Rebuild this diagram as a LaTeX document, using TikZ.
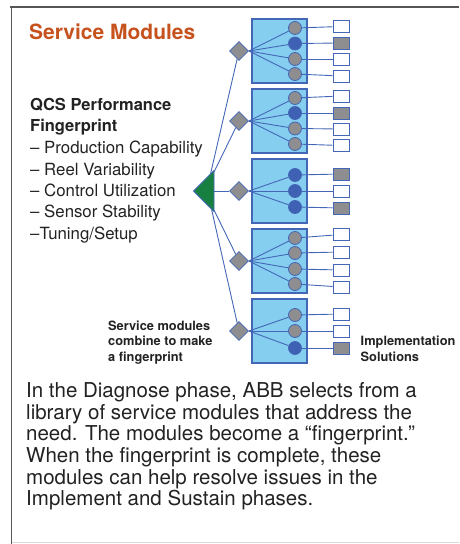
\documentclass[tikz,border=0pt]{standalone}
\usepackage{fontspec}
\setmainfont{TeX Gyre Heros}
\usetikzlibrary{shapes.geometric}
\definecolor{lineblue}{HTML}{4367B6}
\definecolor{modfill}{HTML}{86CEF0}
\definecolor{dotgray}{HTML}{8E8E91}
\definecolor{dotblue}{HTML}{3E61B3}
\definecolor{titleorange}{HTML}{C6521E}
\definecolor{trigreen}{HTML}{178040}
\definecolor{txt}{HTML}{222222}
\definecolor{frame}{HTML}{555555}
\pgfdeclarelayer{back}
\pgfdeclarelayer{mid}
\pgfsetlayers{back,mid,main}
\tikzset{
  module/.style={draw=lineblue, fill=modfill, line width=1.3pt, minimum width=55pt, minimum height=64pt, inner sep=0pt},
  dot/.style={circle, draw=lineblue, line width=0.8pt, fill=dotgray, minimum size=13pt, inner sep=0pt},
  bdot/.style={dot, fill=dotblue},
  sol/.style={draw=lineblue, line width=1pt, fill=white, minimum width=16pt, minimum height=12pt, inner sep=0pt},
  gsol/.style={sol, fill=dotgray},
  hub/.style={diamond, draw=lineblue, line width=0.8pt, fill=dotgray, minimum size=19pt, inner sep=0pt},
  conn/.style={draw=lineblue, line width=0.9pt},
  lbl/.style={anchor=base west, inner sep=0pt, text=txt},
}
\begin{document}
\begin{tikzpicture}[x=1pt,y=-1pt]
\useasboundingbox (0,0) rectangle (459,544);
% frame
\draw[frame, line width=2pt] (10,7) -- (459,7);
\draw[frame, line width=1.4pt] (11.5,6) -- (11.5,544);
\draw[black!15, line width=1pt] (11.5,542.5) -- (459,542.5);

% titles
\node[lbl, text=titleorange, font=\fontsize{21}{24}\bfseries] (title) at (29,39) {Service Modules};
\node[lbl, font=\fontsize{16.5}{20}\bfseries] (q1) at (30,110.7) {QCS Performance};
\node[lbl, font=\fontsize{16.5}{20}\bfseries] (q2) at (30,131.7) {Fingerprint};
\node[lbl, font=\fontsize{16.8}{20}\selectfont] (l1) at (30,153.3) {– Production Capability};
\node[lbl, font=\fontsize{16.8}{20}\selectfont] (l2) at (30,175) {– Reel Variability};
\node[lbl, font=\fontsize{16.8}{20}\selectfont] (l3) at (30,196.3) {– Control Utilization};
\node[lbl, font=\fontsize{16.8}{20}\selectfont] (l4) at (30,217.6) {– Sensor Stability};
\node[lbl, font=\fontsize{16.8}{20}\selectfont] (l5) at (30,239) {–Tuning/Setup};

\node[lbl, font=\fontsize{12.8}{15}\bfseries] (s1) at (108,330) {Service modules};
\node[lbl, font=\fontsize{12.8}{15}\bfseries] (s2) at (108,345.7) {combine to make};
\node[lbl, font=\fontsize{12.8}{15}\bfseries] (s3) at (108,361.5) {a fingerprint};
\node[lbl, font=\fontsize{12.8}{15}\bfseries] (i1) at (360.5,345.7) {Implementation};
\node[lbl, font=\fontsize{12.8}{15}\bfseries] (i2) at (360.5,361.5) {Solutions};

\node[lbl, font=\fontsize{20.5}{22}\selectfont] (p1) at (26,397.3) {In the Diagnose phase, ABB selects from a};
\node[lbl, font=\fontsize{20.5}{22}\selectfont] (p2) at (26,419) {library of service modules that address the};
\node[lbl, font=\fontsize{20.5}{22}\selectfont] (p3) at (26,440.7) {need. The modules become a “fingerprint.”};
\node[lbl, font=\fontsize{20.5}{22}\selectfont] (p4) at (26,462.3) {When the fingerprint is complete, these};
\node[lbl, font=\fontsize{20.5}{22}\selectfont] (p5) at (26,484) {modules can help resolve issues in the};
\node[lbl, font=\fontsize{20.5}{22}\selectfont] (p6) at (26,505.7) {Implement and Sustain phases.};

% modules
\begin{pgfonlayer}{back}
\foreach \k/\y in {1/51, 2/121, 3/191, 4/261, 5/331}
  \node[module] (m\k) at (279.5,\y) {};
\end{pgfonlayer}

% hubs
\foreach \k/\y in {1/51, 2/121, 3/191, 4/261, 5/331}
  \node[hub] (h\k) at (239,\y) {};

% triangle
\coordinate (ttip) at (193.5,191);
\coordinate (ttop) at (214,170.5);
\coordinate (tbot) at (214,211.5);
\coordinate (ta) at (210.5,174);
\coordinate (tb) at (214,172);
\coordinate (tc) at (214,191);
\coordinate (td) at (214,210);
\coordinate (te) at (211.5,209);
\path[fill=trigreen, draw=lineblue, line width=0.8pt, line join=round] (ttip) -- (ttop) -- (tbot) -- cycle;

% dots and solutions
\foreach \n/\h/\cy/\sy/\cs/\ss in {
  a/1/28/26.5/dot/sol, b/1/43.5/43/bdot/gsol, c/1/59/59/dot/sol, d/1/74/76/dot/sol,
  e/2/98/96/dot/sol, f/2/113/113/bdot/gsol, g/2/128.5/129/dot/sol, h/2/144/145.5/dot/sol,
  i/3/175/174/bdot/gsol, j/3/191/191/bdot/sol, k/3/207/208/bdot/gsol,
  l/4/238/234.5/dot/sol, m/4/253/252/dot/sol, n/4/269/270/dot/sol, o/4/284/287/dot/sol,
  p/5/315/314/dot/sol, q/5/331/331/dot/sol, r/5/348/348/bdot/gsol}{
  \node[\cs] (c\n) at (295,\cy) {};
  \node[\ss] (s\n) at (341,\sy) {};
  \begin{pgfonlayer}{mid}
    \draw[conn] (h\h.east) -- (c\n);
    \draw[conn] (c\n) -- (s\n);
  \end{pgfonlayer}
}

\begin{pgfonlayer}{mid}
\draw[conn] (ta) -- (h1);
\draw[conn] (tb) -- (h2);
\draw[conn] (tc) -- (h3);
\draw[conn] (td) -- (h4);
\draw[conn] (te) -- (h5);
\end{pgfonlayer}
\end{tikzpicture}
\end{document}
